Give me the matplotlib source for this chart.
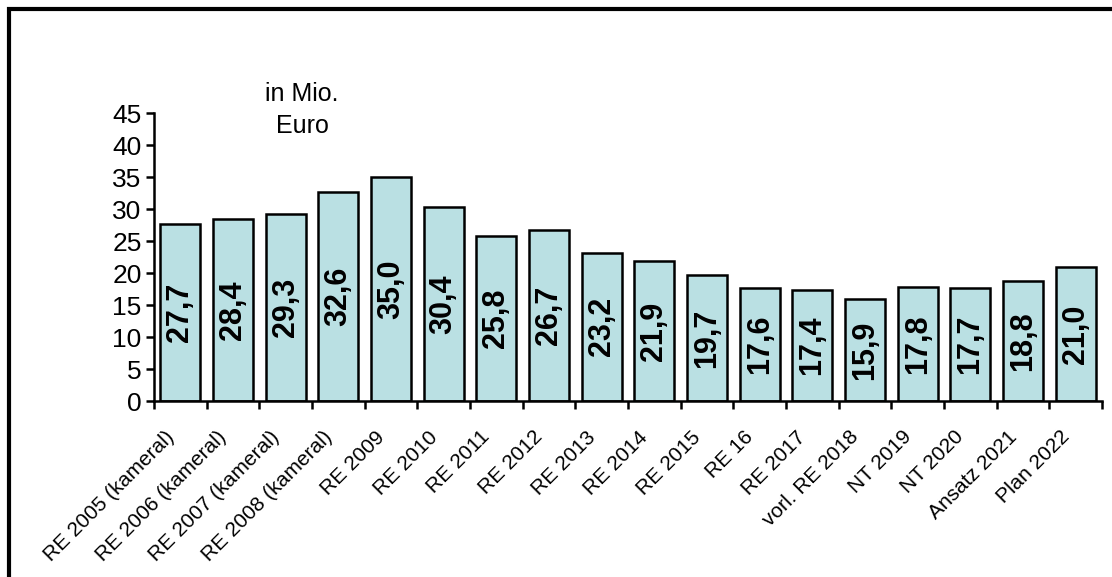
import matplotlib.pyplot as plt
import matplotlib.transforms as mtransforms
from matplotlib.patches import Rectangle

categories = ["RE 2005 (kameral)", "RE 2006 (kameral)", "RE 2007 (kameral)",
              "RE 2008 (kameral)", "RE 2009", "RE 2010", "RE 2011", "RE 2012",
              "RE 2013", "RE 2014", "RE 2015", "RE 16", "RE 2017",
              "vorl. RE 2018", "NT 2019", "NT 2020", "Ansatz 2021", "Plan 2022"]
values = [27.7, 28.4, 29.3, 32.6, 35.0, 30.4, 25.8, 26.7, 23.2, 21.9,
          19.7, 17.6, 17.4, 15.9, 17.8, 17.7, 18.8, 21.0]
y_ticks = [0, 5, 10, 15, 20, 25, 30, 35, 40, 45]

plt.rcParams['font.family'] = ['Liberation Sans', 'DejaVu Sans']

fig = plt.figure(figsize=(11.12, 5.77), dpi=100)
ax = fig.add_axes([0.1385, 0.305, 0.8525, 0.499])

x = list(range(len(categories)))
ax.bar(x, values, width=0.76, color='#BAE0E3', edgecolor='black', linewidth=1.8, zorder=2)

for xi, v in zip(x, values):
    ax.text(xi, v / 2, f"{v:.1f}".replace('.', ','), rotation=90,
            ha='center', va='center', fontsize=22, fontweight='bold')

ax.set_xlim(-0.5, len(categories) - 0.5)
ax.set_ylim(0, 45)
ax.set_yticks(y_ticks)
ax.tick_params(axis='y', labelsize=19, width=1.8, length=6, pad=3)

# tick marks between categories, labels at the centres
ax.set_xticks([i - 0.5 for i in range(len(categories) + 1)])
ax.set_xticklabels([])
ax.tick_params(axis='x', which='major', width=1.8, length=6)
ax.set_xticks(x, minor=True)
ax.set_xticklabels(categories, minor=True, rotation=45, ha='right',
                   rotation_mode='anchor', fontsize=15)
ax.tick_params(axis='x', which='minor', length=0, pad=19)
shift = mtransforms.ScaledTranslation(-16 / 100, 0, fig.dpi_scale_trans)
for lab in ax.get_xticklabels(minor=True):
    lab.set_transform(lab.get_transform() + shift)

for s in ['top', 'right']:
    ax.spines[s].set_visible(False)
for s in ['left', 'bottom']:
    ax.spines[s].set_linewidth(1.8)

fig.text(302 / 1112, 1 - 110 / 577, "in Mio.\nEuro", ha='center', va='center',
         fontsize=18, linespacing=1.4)

# outer frame
fig.patches.append(Rectangle((9 / 1112, -0.1), 1.2, 1 - 9 / 577 + 0.1,
                             transform=fig.transFigure, fill=False,
                             edgecolor='black', linewidth=3))

fig.savefig("out.png", dpi=100)
